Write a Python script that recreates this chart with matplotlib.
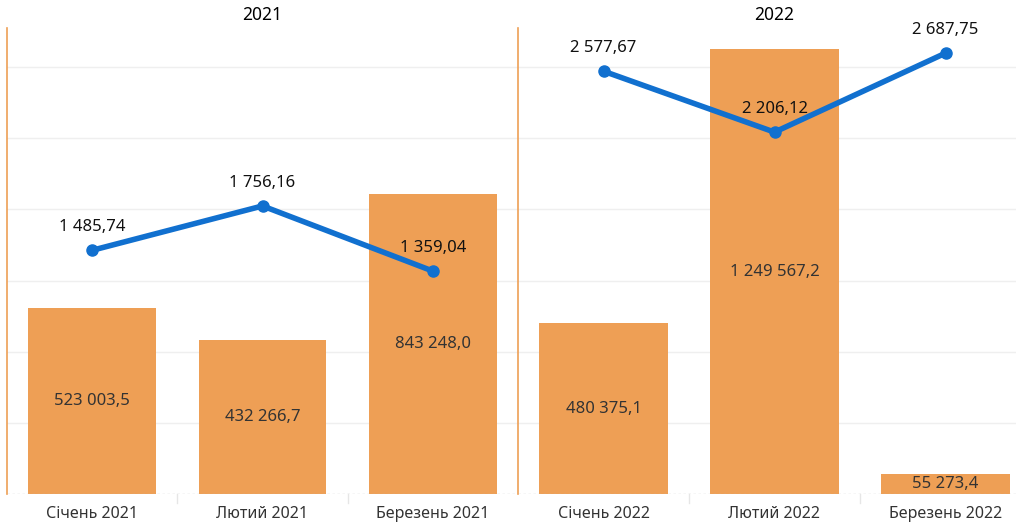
import matplotlib.pyplot as plt
import numpy as np

plt.rcParams['font.family'] = ['Noto Sans', 'DejaVu Sans']

years = ['2021', '2022']
months = {
    '2021': ['Січень 2021', 'Лютий 2021', 'Березень 2021'],
    '2022': ['Січень 2022', 'Лютий 2022', 'Березень 2022'],
}
bar_values = {
    '2021': [523003.5, 432266.7, 843248.0],
    '2022': [480375.1, 1249567.2, 55273.4],
}
line_values = {
    '2021': [1485.74, 1756.16, 1359.04],
    '2022': [2577.67, 2206.12, 2687.75],
}

bar_color = '#EE9F55'
line_color = '#1170CF'


def fmt(v, dec):
    s = '{:,.{d}f}'.format(v, d=dec)
    return s.replace(',', ' ').replace('.', ',')


fig = plt.figure(figsize=(10.16, 5.28), dpi=100)
W, H = 1016, 528
bottom = 1 - 494 / H
height = (494 - 28) / H
panels = [(7, 518), (518, 1031)]

for (x0, x1), year in zip(panels, years):
    ax = fig.add_axes([x0 / W, bottom, (x1 - x0) / W, height])
    x = np.arange(3)
    bars = ax.bar(x, bar_values[year], width=0.75, color=bar_color, zorder=2)
    ax.set_xlim(-0.5, 2.5)
    ax.set_ylim(0, 1310000)
    ax.set_yticks(np.arange(200000, 1300000, 200000))
    ax.grid(axis='y', color='#EFEFEF', linewidth=1, zorder=0)
    ax.set_xticks(x)
    ax.set_xticklabels(months[year], fontsize=11.5, color='#333333')
    ax.tick_params(axis='x', length=0, pad=9)
    for s in ['top', 'right', 'bottom']:
        ax.spines[s].set_visible(False)
    ax.spines['left'].set_color(bar_color)
    ax.spines['left'].set_linewidth(1.2)
    ax.axhline(0, color='#BBBBBB', linestyle=(0, (2, 2)), linewidth=0.9, zorder=3)
    for b in [0.5, 1.5]:
        ax.plot([b, b], [0, -0.02], transform=ax.get_xaxis_transform(),
                color='#E6E6E6', linewidth=1, clip_on=False)
    for rect, v in zip(bars, bar_values[year]):
        ax.text(rect.get_x() + rect.get_width() / 2, v / 2, fmt(v, 1),
                ha='center', va='center', fontsize=12, color='#333333', zorder=4)
    ax.set_title(year, fontsize=12.5, fontweight='semibold', pad=6)

    ax2 = ax.twinx()
    ax2.set_ylim(0, 2841)
    ax2.plot(x, line_values[year], color=line_color, linewidth=4, marker='o',
             markersize=8, solid_capstyle='round', zorder=5)
    for xi, v in zip(x, line_values[year]):
        ax2.annotate(fmt(v, 2), (xi, v), xytext=(0, 11), textcoords='offset points',
                     ha='center', va='bottom', fontsize=12, color='#111111')
    ax2.axis('off')
    ax.tick_params(axis='y', left=False, right=False, labelleft=False, labelright=False)

fig.savefig('out.png', dpi=100)
